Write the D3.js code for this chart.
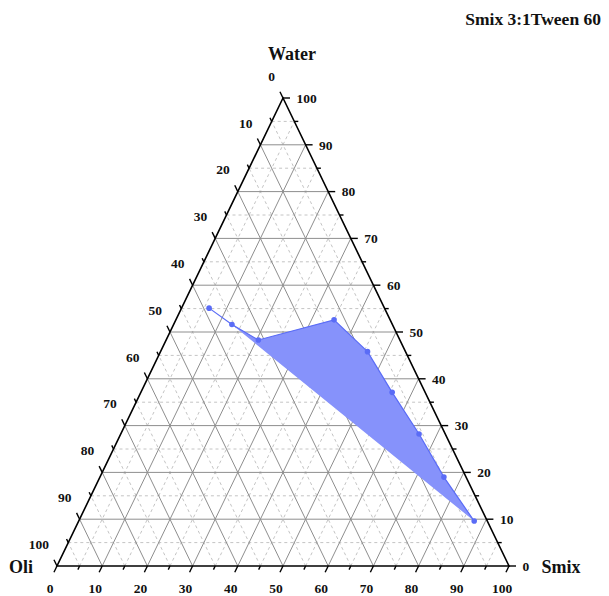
<!DOCTYPE html>
<html>
<head>
<meta charset="utf-8">
<script src="https://cdn.jsdelivr.net/npm/d3@7"></script>
<style>
  html, body { margin: 0; padding: 0; background: #fff; }
  svg text { font-family: "Liberation Serif", "Times New Roman", serif; font-weight: bold; fill: #111; }
</style>
</head>
<body>
<div id="chart"></div>
<script>
// phase boundary points, in percent (Oli + Smix + Water = 100)
const oliPct   = [38.8, 35.5, 31.3, 12.4,  8.4,  7.3,  5.8,  4.9,  2.9];
const smixPct  = [ 6.1, 12.9, 20.4, 35.0, 45.8, 55.6, 66.0, 76.1, 87.5];
const waterPct = [55.1, 51.6, 48.3, 52.6, 45.8, 37.1, 28.2, 19.0,  9.6];
// points that bound the shaded region
const regionIdx = [1, 2, 3, 4, 5, 6, 7, 8];

const majorTicks = d3.range(0, 101, 10);
const minorTicks = d3.range(5, 100, 10);
const gridMajor  = d3.range(10, 100, 10);
const gridMinor  = d3.range(5, 100, 10);

const title = "Smix 3:1Tween 60";

const width = 609, height = 596;
const vLeft = { x: 57, y: 566 }, vRight = { x: 509, y: 566 }, vTop = { x: 283, y: 98 };

const svg = d3.select("#chart").append("svg")
  .attr("width", width)
  .attr("height", height);

// scales: horizontal position is smix + water/2, vertical is water
const xScale = d3.scaleLinear().domain([0, 100]).range([vLeft.x, vRight.x]);
const yScale = d3.scaleLinear().domain([0, 100]).range([vLeft.y, vTop.y]);
const pos = (s, w) => [xScale(s + w / 2), yScale(w)];

function unit(a, b) {
  const dx = b.x - a.x, dy = b.y - a.y, l = Math.hypot(dx, dy);
  return [dx / l, dy / l];
}
const dirLeft   = unit(vRight, vTop);  // up-left ticks on the Oli axis
const dirBottom = unit(vTop, vLeft);   // down-left ticks on the Smix axis
const dirRight  = [1, 0];              // horizontal ticks on the Water axis

// grid lines for one level k
function gridSegs(k) {
  return [
    [pos(0, k), pos(100 - k, k)],          // water = k
    [pos(k, 0), pos(k, 100 - k)],          // smix = k
    [pos(100 - k, 0), pos(0, 100 - k)]     // oli = k
  ];
}

const grid = svg.append("g");
grid.selectAll("line.minor")
  .data(gridMinor.flatMap(gridSegs))
  .join("line")
    .attr("class", "minor")
    .attr("x1", d => d[0][0]).attr("y1", d => d[0][1])
    .attr("x2", d => d[1][0]).attr("y2", d => d[1][1])
    .attr("stroke", "#c4c4c4")
    .attr("stroke-width", 1)
    .attr("stroke-dasharray", "3,3");

grid.selectAll("line.major")
  .data(gridMajor.flatMap(gridSegs))
  .join("line")
    .attr("class", "major")
    .attr("x1", d => d[0][0]).attr("y1", d => d[0][1])
    .attr("x2", d => d[1][0]).attr("y2", d => d[1][1])
    .attr("stroke", "#8e8e8e")
    .attr("stroke-width", 1);

// shaded region
const pts = oliPct.map((o, i) => pos(smixPct[i], waterPct[i]));
svg.append("path")
  .attr("d", d3.line()(regionIdx.map(i => pts[i])) + "Z")
  .attr("fill", "#8692fb")
  .attr("stroke", "none");

// boundary line and points
svg.append("path")
  .attr("d", d3.line()(pts))
  .attr("fill", "none")
  .attr("stroke", "#5a6cf6")
  .attr("stroke-width", 1.2);

svg.append("g")
  .selectAll("circle")
  .data(pts)
  .join("circle")
    .attr("cx", d => d[0])
    .attr("cy", d => d[1])
    .attr("r", 2.8)
    .attr("fill", "#5a6cf6");

// axes (triangle)
svg.append("path")
  .attr("d", `M${vLeft.x},${vLeft.y}L${vRight.x},${vRight.y}L${vTop.x},${vTop.y}Z`)
  .attr("fill", "none")
  .attr("stroke", "#000")
  .attr("stroke-width", 1.6)
  .attr("stroke-linejoin", "miter");

const axes = [
  { at: k => pos(k, 0),       dir: dirBottom },   // Smix
  { at: k => pos(100 - k, k), dir: dirRight  },   // Water
  { at: k => pos(0, 100 - k), dir: dirLeft   }    // Oli
];

const ticks = svg.append("g").attr("stroke", "#000").attr("stroke-width", 1.4);
axes.forEach(ax => {
  majorTicks.forEach(k => {
    const [x, y] = ax.at(k);
    ticks.append("line")
      .attr("x1", x).attr("y1", y)
      .attr("x2", x + ax.dir[0] * 7).attr("y2", y + ax.dir[1] * 7);
  });
  minorTicks.forEach(k => {
    const [x, y] = ax.at(k);
    ticks.append("line")
      .attr("x1", x).attr("y1", y)
      .attr("x2", x + ax.dir[0] * 4).attr("y2", y + ax.dir[1] * 4);
  });
});

// tick labels
const labels = svg.append("g").style("font-size", "13.5px");
labels.selectAll("text.b")
  .data(majorTicks)
  .join("text")
    .attr("class", "b")
    .attr("x", k => axes[0].at(k)[0] - 7)
    .attr("y", k => axes[0].at(k)[1] + 22)
    .attr("dy", "0.35em")
    .attr("text-anchor", "middle")
    .text(k => k);

labels.selectAll("text.r")
  .data(majorTicks)
  .join("text")
    .attr("class", "r")
    .attr("x", k => axes[1].at(k)[0] + 13.5)
    .attr("y", k => axes[1].at(k)[1])
    .attr("dy", "0.35em")
    .attr("text-anchor", "start")
    .text(k => k);

labels.selectAll("text.l")
  .data(majorTicks)
  .join("text")
    .attr("class", "l")
    .attr("x", k => axes[2].at(k)[0] - 8)
    .attr("y", k => axes[2].at(k)[1] - 22)
    .attr("dy", "0.35em")
    .attr("text-anchor", "end")
    .text(k => k);

// axis titles
const titles = svg.append("g").style("font-size", "18px");
titles.append("text").attr("x", 292).attr("y", 54).attr("dy", "0.35em")
  .attr("text-anchor", "middle").text("Water");
titles.append("text").attr("x", 21).attr("y", 567).attr("dy", "0.35em")
  .attr("text-anchor", "middle").text("Oli");
titles.append("text").attr("x", 561).attr("y", 567).attr("dy", "0.35em")
  .attr("text-anchor", "middle").text("Smix");

svg.append("text")
  .attr("x", 601).attr("y", 19).attr("dy", "0.35em")
  .attr("text-anchor", "end")
  .style("font-size", "17.5px")
  .text(title);
</script>
</body>
</html>
